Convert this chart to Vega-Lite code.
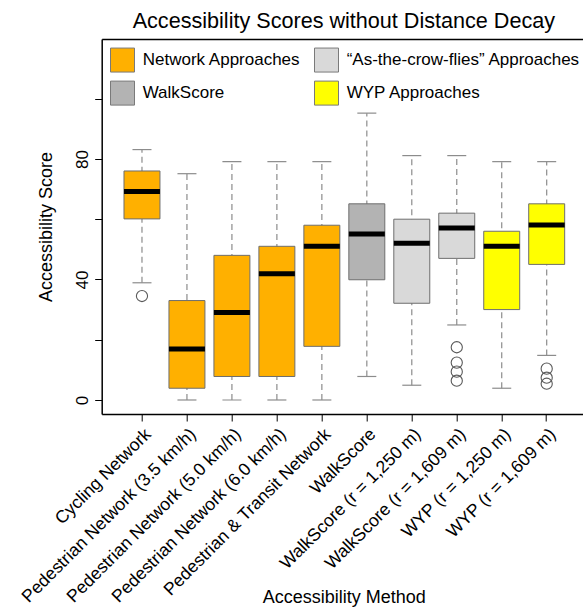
{
  "$schema": "https://vega.github.io/schema/vega-lite/v6.json",
  "width": 481.3,
  "height": 375,
  "autosize": {"type": "none"},
  "padding": {"left": 101.7, "top": 39, "right": 0, "bottom": 194},
  "background": "white",
  "config": {
    "font": "Liberation Sans",
    "view": {"stroke": null},
    "axis": {"grid": false, "labelColor": "black", "titleColor": "black", "labelFont": "Liberation Sans", "titleFont": "Liberation Sans"}
  },
  "title": {
    "text": "Accessibility Scores without Distance Decay",
    "fontSize": 21.6,
    "font": "Liberation Sans",
    "fontWeight": "normal",
    "color": "black",
    "baseline": "alphabetic",
    "offset": 12.3,
    "anchor": "middle",
    "frame": "group",
    "dx": 1.5,
    "dy": 23
  },
  "datasets": {
    "boxes": [
      {"method": "Cycling Network", "group": "Network Approaches", "lower": 38.9, "q1": 60.1, "median": 69.2, "q3": 76.0, "upper": 83.1},
      {"method": "Pedestrian Network (3.5 km/h)", "group": "Network Approaches", "lower": 0, "q1": 3.9, "median": 16.9, "q3": 33.0, "upper": 75.1},
      {"method": "Pedestrian Network (5.0 km/h)", "group": "Network Approaches", "lower": 0, "q1": 7.8, "median": 29.0, "q3": 48.0, "upper": 79.1},
      {"method": "Pedestrian Network (6.0 km/h)", "group": "Network Approaches", "lower": 0, "q1": 7.8, "median": 41.9, "q3": 51.0, "upper": 79.1},
      {"method": "Pedestrian & Transit Network", "group": "Network Approaches", "lower": 0, "q1": 17.8, "median": 51.0, "q3": 58.0, "upper": 79.1},
      {"method": "WalkScore", "group": "WalkScore", "lower": 7.8, "q1": 39.9, "median": 55.1, "q3": 65.1, "upper": 95.2},
      {"method": "WalkScore (r = 1,250 m)", "group": "“As-the-crow-flies” Approaches", "lower": 4.9, "q1": 32.1, "median": 52.0, "q3": 60.0, "upper": 81.1},
      {"method": "WalkScore (r = 1,609 m)", "group": "“As-the-crow-flies” Approaches", "lower": 24.9, "q1": 47.0, "median": 57.1, "q3": 62.0, "upper": 81.1},
      {"method": "WYP (r = 1,250 m)", "group": "WYP Approaches", "lower": 3.9, "q1": 30.0, "median": 51.0, "q3": 56.0, "upper": 79.1},
      {"method": "WYP (r = 1,609 m)", "group": "WYP Approaches", "lower": 14.8, "q1": 45.0, "median": 58.1, "q3": 65.1, "upper": 79.1}
    ],
    "outliers": [
      {"method": "Cycling Network", "value": 34.5},
      {"method": "WalkScore (r = 1,609 m)", "value": 17.5},
      {"method": "WalkScore (r = 1,609 m)", "value": 12.4},
      {"method": "WalkScore (r = 1,609 m)", "value": 9.4},
      {"method": "WalkScore (r = 1,609 m)", "value": 6.4},
      {"method": "WYP (r = 1,609 m)", "value": 10.4},
      {"method": "WYP (r = 1,609 m)", "value": 7.4},
      {"method": "WYP (r = 1,609 m)", "value": 5.4}
    ]
  },
  "resolve": {"axis": {"x": "independent"}},
  "layer": [
    {
      "data": {"name": "boxes"},
      "mark": {"type": "rule", "color": "#8c8c8c", "strokeWidth": 1.2, "strokeDash": [6, 4]},
      "encoding": {
        "x": {
          "field": "method", "type": "nominal", "sort": null,
          "scale": {
            "type": "band",
            "domain": ["Cycling Network", "Pedestrian Network (3.5 km/h)", "Pedestrian Network (5.0 km/h)", "Pedestrian Network (6.0 km/h)", "Pedestrian & Transit Network", "WalkScore", "WalkScore (r = 1,250 m)", "WalkScore (r = 1,609 m)", "WYP (r = 1,250 m)", "WYP (r = 1,609 m)"],
            "paddingInner": 0.2, "paddingOuter": 0.4515, "align": 0.549, "round": false
          },
          "axis": {
            "orient": "bottom",
            "title": "Accessibility Method",
            "titleFontSize": 18,
            "titleFontWeight": "normal",
            "titleY": 188.5,
            "titleX": 242,
            "titleBaseline": "alphabetic",
            "labelAngle": -45,
            "labelAlign": "right",
            "labelBaseline": "top",
            "labelFontSize": 17.6,
            "labelPadding": 4,
            "labelOffset": 0,
            "labelLimit": 400,
            "labelOverlap": false,
            "tickSize": 7,
            "tickColor": "black",
            "tickWidth": 1,
            "domainColor": "black",
            "domainWidth": 1.5
          }
        },
        "y": {
          "field": "lower", "type": "quantitative",
          "scale": {"domain": [-4.65, 119.8], "nice": false, "zero": false},
          "axis": {
            "title": "Accessibility Score",
            "titleFontSize": 18,
            "titleFontWeight": "normal",
            "titleX": -55,
            "titleY": 187.5,
            "titleBaseline": "middle",
            "titleAlign": "center",
            "titleAngle": 270,
            "values": [0, 20, 40, 60, 80, 100],
            "labelExpr": "datum.value == 0 || datum.value == 40 || datum.value == 80 ? datum.label : ''",
            "labelAngle": 270,
            "labelAlign": "center",
            "labelBaseline": "alphabetic",
            "labelPadding": 7.5,
            "labelFontSize": 17,
            "labelOverlap": false,
            "tickSize": 7,
            "tickColor": "black",
            "tickWidth": 1,
            "domainColor": "black",
            "domainWidth": 1.5
          }
        },
        "y2": {"field": "upper"}
      }
    },
    {
      "data": {"name": "boxes"},
      "mark": {"type": "tick", "color": "#8c8c8c", "thickness": 1.2, "size": 19, "opacity": 1},
      "encoding": {
        "x": {"field": "method", "type": "nominal", "sort": null, "axis": null},
        "y": {"field": "upper", "type": "quantitative"}
      }
    },
    {
      "data": {"name": "boxes"},
      "mark": {"type": "tick", "color": "#8c8c8c", "thickness": 1.2, "size": 19, "opacity": 1},
      "encoding": {
        "x": {"field": "method", "type": "nominal", "sort": null, "axis": null},
        "y": {"field": "lower", "type": "quantitative"}
      }
    },
    {
      "data": {"name": "boxes"},
      "mark": {"type": "bar", "stroke": "#6e6e6e", "strokeWidth": 1, "opacity": 1},
      "encoding": {
        "x": {
          "field": "method", "type": "nominal", "sort": null,
          "axis": {"orient": "top", "labels": false, "ticks": false, "title": null, "domainColor": "black", "domainWidth": 1.5}
        },
        "y": {"field": "q1", "type": "quantitative"},
        "y2": {"field": "q3"},
        "color": {
          "field": "group", "type": "nominal",
          "scale": {
            "domain": ["Network Approaches", "WalkScore", "“As-the-crow-flies” Approaches", "WYP Approaches"],
            "range": ["#FFB000", "#B3B3B3", "#D9D9D9", "#FFFF00"]
          },
          "legend": {
            "orient": "none",
            "legendX": 8.3,
            "legendY": 8.3,
            "columns": 2,
            "title": null,
            "padding": 0,
            "symbolType": "square",
            "symbolSize": 576,
            "symbolStrokeColor": "#7a7a7a",
            "symbolStrokeWidth": 1,
            "symbolOpacity": 1,
            "labelFontSize": 17,
            "labelFont": "Liberation Sans",
            "labelColor": "black",
            "labelOffset": 7.7,
            "labelLimit": 400,
            "rowPadding": 4.3,
            "columnPadding": 11
          }
        }
      }
    },
    {
      "data": {"name": "boxes"},
      "mark": {"type": "tick", "color": "black", "thickness": 5, "size": 36, "opacity": 1},
      "encoding": {
        "x": {"field": "method", "type": "nominal", "sort": null, "axis": null},
        "y": {"field": "median", "type": "quantitative"}
      }
    },
    {
      "data": {"name": "outliers"},
      "mark": {"type": "point", "shape": "circle", "filled": false, "stroke": "#5a5a5a", "strokeWidth": 1.1, "size": 125, "opacity": 1},
      "encoding": {
        "x": {"field": "method", "type": "nominal", "sort": null, "axis": null},
        "y": {"field": "value", "type": "quantitative"}
      }
    }
  ]
}
